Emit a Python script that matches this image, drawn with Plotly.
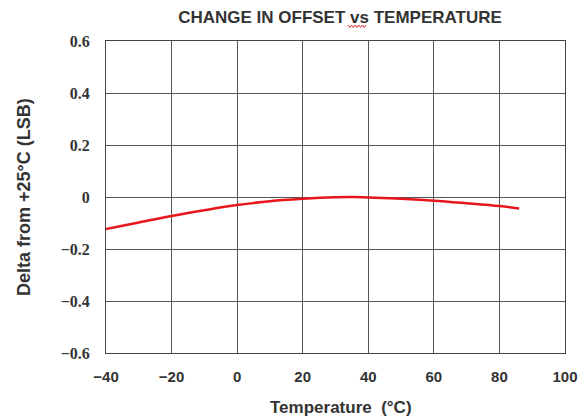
import plotly.graph_objects as go

temperature = [-40, -30, -20, -10, 0, 10, 20, 30, 35, 40, 50, 60, 70, 80, 86]
delta = [-0.123, -0.098, -0.073, -0.051, -0.031, -0.016, -0.007, -0.001, 0.0, -0.002, -0.007, -0.014, -0.024, -0.035, -0.044]

x_ticks = [-40, -20, 0, 20, 40, 60, 80, 100]
x_tick_text = ["\u221240", "\u221220", "0", "20", "40", "60", "80", "100"]
y_ticks = [-0.6, -0.4, -0.2, 0, 0.2, 0.4, 0.6]
y_tick_text = ["\u22120.6", "\u22120.4", "\u22120.2", "0", "0.2", "0.4", "0.6"]

SANS = "Liberation Sans, Arial"
SERIF = "Liberation Serif, Times New Roman"
TXT = "#333333"

L, R, T, B = 98, 31, 33, 74
W, H = 588, 419
PW, PH = W - L - R, H - T - B


def px(fx):
    return (fx - L) / PW


def py(fy):
    return (H - B - fy) / PH


# wavy spell-check underline under "vs" in the title (decoration)
pts = []
fx = 340.0
i = 0
while fx <= 359.5:
    fy = 17.0 if i % 2 == 0 else 19.5
    pts.append((px(fx), py(fy)))
    fx += 1.8
    i += 1
wave_path = "M " + " L ".join(f"{a:.5f},{b:.5f}" for a, b in pts)

fig = go.Figure()
fig.add_trace(go.Scatter(x=temperature, y=delta, mode="lines",
                         line=dict(color="#e8161b", width=2.5, shape="spline"),
                         showlegend=False))

fig.update_layout(
    width=W, height=H,
    margin=dict(l=L, r=R, t=T, b=B, autoexpand=False),
    paper_bgcolor="white", plot_bgcolor="white",
    title=dict(text="<b>CHANGE IN OFFSET vs TEMPERATURE</b>",
               x=332 / W, xanchor="center", xref="container",
               y=1 - 9 / H, yanchor="middle", yref="container",
               font=dict(family=SANS, size=17, color=TXT)),
    annotations=[
        dict(text="<b>Temperature  (°C)</b>", xref="paper", yref="paper",
             x=(333 - L) / PW, y=-54 / PH, xanchor="center", yanchor="middle", showarrow=False,
             font=dict(family=SANS, size=17, color=TXT)),
        dict(text="<b>Delta from +25°C (LSB)</b>", xref="paper", yref="paper",
             x=-82 / PW, y=0.5, xanchor="center", yanchor="middle", showarrow=False,
             textangle=-90, font=dict(family=SANS, size=18, color=TXT)),
    ],
    shapes=[dict(type="path", xref="paper", yref="paper", path=wave_path,
                 line=dict(color="#d23030", width=1))],
)
fig.update_xaxes(range=[-40, 100], tickvals=x_ticks, ticktext=x_tick_text,
                 showgrid=True, gridcolor="#555555", gridwidth=1,
                 showline=True, linecolor="#444444", linewidth=1, mirror=True,
                 zeroline=False, ticks="", ticklabelstandoff=10,
                 tickfont=dict(family=SANS, size=15, color=TXT, weight="bold"))
fig.update_yaxes(range=[-0.6, 0.6], tickvals=y_ticks, ticktext=y_tick_text,
                 showgrid=True, gridcolor="#555555", gridwidth=1,
                 showline=True, linecolor="#444444", linewidth=1, mirror=True,
                 zeroline=False, ticks="", ticklabelstandoff=12,
                 tickfont=dict(family=SERIF, size=16, color=TXT, weight="bold"))

fig.write_html("out.html")
